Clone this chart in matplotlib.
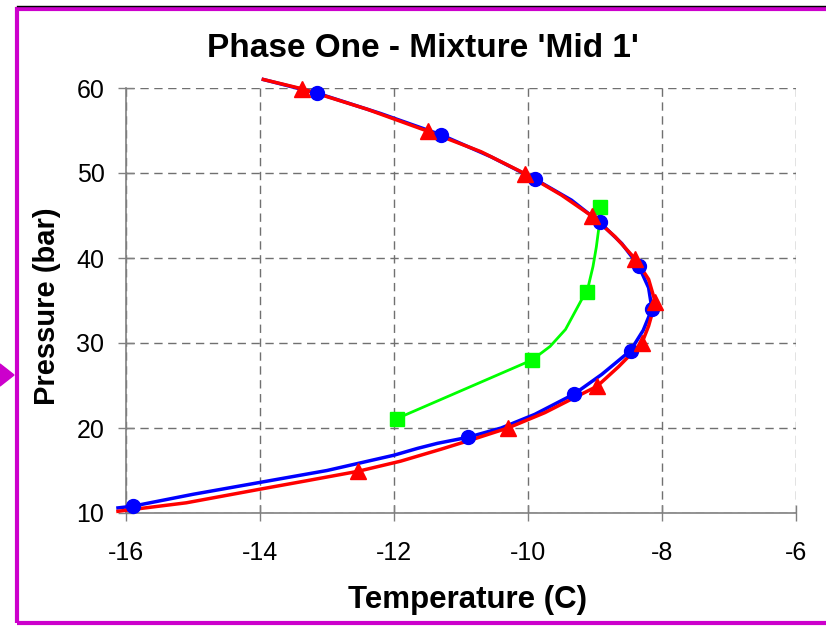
import matplotlib.pyplot as plt
from matplotlib.patches import Rectangle, Polygon
from matplotlib.lines import Line2D

plt.rcParams['font.family'] = ['Liberation Sans', 'DejaVu Sans']
plt.rcParams['axes.unicode_minus'] = False

# marker points (temperature C, pressure bar)
blue_pts_t = [-15.9, -13.15, -11.3, -9.9, -8.93, -8.35, -8.15, -8.47, -9.31, -10.9]
blue_pts_p = [10.8, 59.4, 54.5, 49.3, 44.2, 39.1, 34.0, 29.1, 24.0, 18.9]

red_pts_t = [-13.37, -11.49, -10.04, -9.04, -8.4, -8.1, -8.3, -8.97, -10.3, -12.54]
red_pts_p = [59.9, 54.9, 49.9, 44.9, 39.9, 34.8, 30.0, 24.9, 20.0, 14.9]

green_pts_t = [-8.93, -9.12, -9.94, -11.96]
green_pts_p = [46.0, 36.0, 28.0, 21.1]

# curves
blue_line_t = [-16.12, -15.9, -15.0, -14.0, -13.0, -12.0, -11.65, -11.35, -10.9,
               -10.4, -9.9, -9.31, -8.9, -8.47, -8.28, -8.15, -8.2, -8.35, -8.6,
               -8.93, -9.35, -9.9, -10.55, -11.3, -12.2, -13.15, -13.95]
blue_line_p = [10.6, 10.8, 12.2, 13.6, 15.0, 16.8, 17.6, 18.2, 18.9,
               20.0, 21.6, 24.0, 26.3, 29.1, 31.5, 34.0, 36.5, 39.1, 41.7,
               44.2, 46.8, 49.3, 51.9, 54.5, 57.0, 59.4, 61.0]

red_line_t = [-16.12, -15.1, -14.0, -13.3, -12.54, -11.9, -11.3, -10.85, -10.3,
              -9.75, -9.35, -8.97, -8.65, -8.45, -8.3, -8.2, -8.1, -8.2, -8.4,
              -8.7, -9.04, -9.5, -10.04, -10.7, -11.49, -12.4, -13.37, -13.95]
red_line_p = [10.2, 11.2, 12.8, 13.8, 14.9, 16.1, 17.5, 18.6, 20.0,
              21.8, 23.4, 24.9, 27.2, 28.8, 30.0, 32.0, 34.8, 37.5, 39.9,
              42.5, 44.9, 47.4, 49.9, 52.5, 54.9, 57.5, 59.9, 61.0]

green_line_t = [-11.96, -9.94, -9.67, -9.44, -9.2, -9.12, -9.03, -8.98, -8.94, -8.93]
green_line_p = [21.1, 28.0, 29.6, 31.6, 35.1, 36.0, 39.0, 41.3, 43.7, 46.0]

xticks = [-16, -14, -12, -10, -8, -6]
yticks = [10, 20, 30, 40, 50, 60]

fig = plt.figure(figsize=(8.26, 6.28), dpi=100)
ax = fig.add_axes([126/826, 115/628, 670/826, 425/628])

blue = '#0000FF'
red = '#FF0000'
green = '#00FF00'

ax.plot(green_line_t, green_line_p, color=green, lw=2, zorder=3)
ax.plot(green_pts_t, green_pts_p, ls='none', marker='s', ms=10, color=green, zorder=4)
ax.plot(blue_line_t, blue_line_p, color=blue, lw=2.5, zorder=3, clip_on=False)
ax.plot(red_line_t, red_line_p, color=red, lw=2.5, zorder=3, clip_on=False)
ax.plot(blue_pts_t, blue_pts_p, ls='none', marker='o', ms=10, color=blue, zorder=5, clip_on=False)
ax.plot(red_pts_t, red_pts_p, ls='none', marker='^', ms=11, color=red, zorder=5, clip_on=False)

ax.set_xlim(-16, -6)
ax.set_ylim(10, 60)
ax.set_xticks(xticks)
ax.set_yticks(yticks)
ax.grid(True, ls=(0, (6, 4)), color='#707070', lw=1)
ax.set_axisbelow(True)
for s in ['top', 'right']:
    ax.spines[s].set_visible(False)
for s in ['left', 'bottom']:
    ax.spines[s].set_color('#808080')
    ax.spines[s].set_linewidth(1.2)
ax.tick_params(direction='inout', length=11, width=1, color='#808080', labelsize=18)
ax.tick_params(axis='y', pad=10)
ax.tick_params(axis='x', pad=15)

# title is centred on the whole chart, not on the plot area
fig.text(422.5/826, 1 - 57/628, "Phase One - Mixture 'Mid 1'", fontsize=24,
         fontweight='bold', ha='center', va='baseline')
ax.set_xlabel('Temperature (C)', fontsize=22.5, fontweight='bold')
ax.set_ylabel('Pressure (bar)', fontsize=21, fontweight='bold')
ax.xaxis.set_label_coords((467 - 126)/670, -(585 - 513)/425)
ax.yaxis.set_label_coords(-(126 - 61)/670, (513 - 306)/425)

# frame around the chart
fig.add_artist(Rectangle((17/826, 5/628), 830/826, 614/628, transform=fig.transFigure,
                         fill=False, edgecolor='#CC00CC', lw=3))
fig.add_artist(Line2D([17/826, 1], [1 - 6/628, 1 - 6/628], transform=fig.transFigure,
                      color='black', lw=1))
fig.add_artist(Polygon([[0, 1 - 364/628], [14/826, 1 - 375/628], [0, 1 - 386/628]],
                       closed=True, transform=fig.transFigure, color='#CC00CC'))

fig.savefig('out.png', dpi=100)
